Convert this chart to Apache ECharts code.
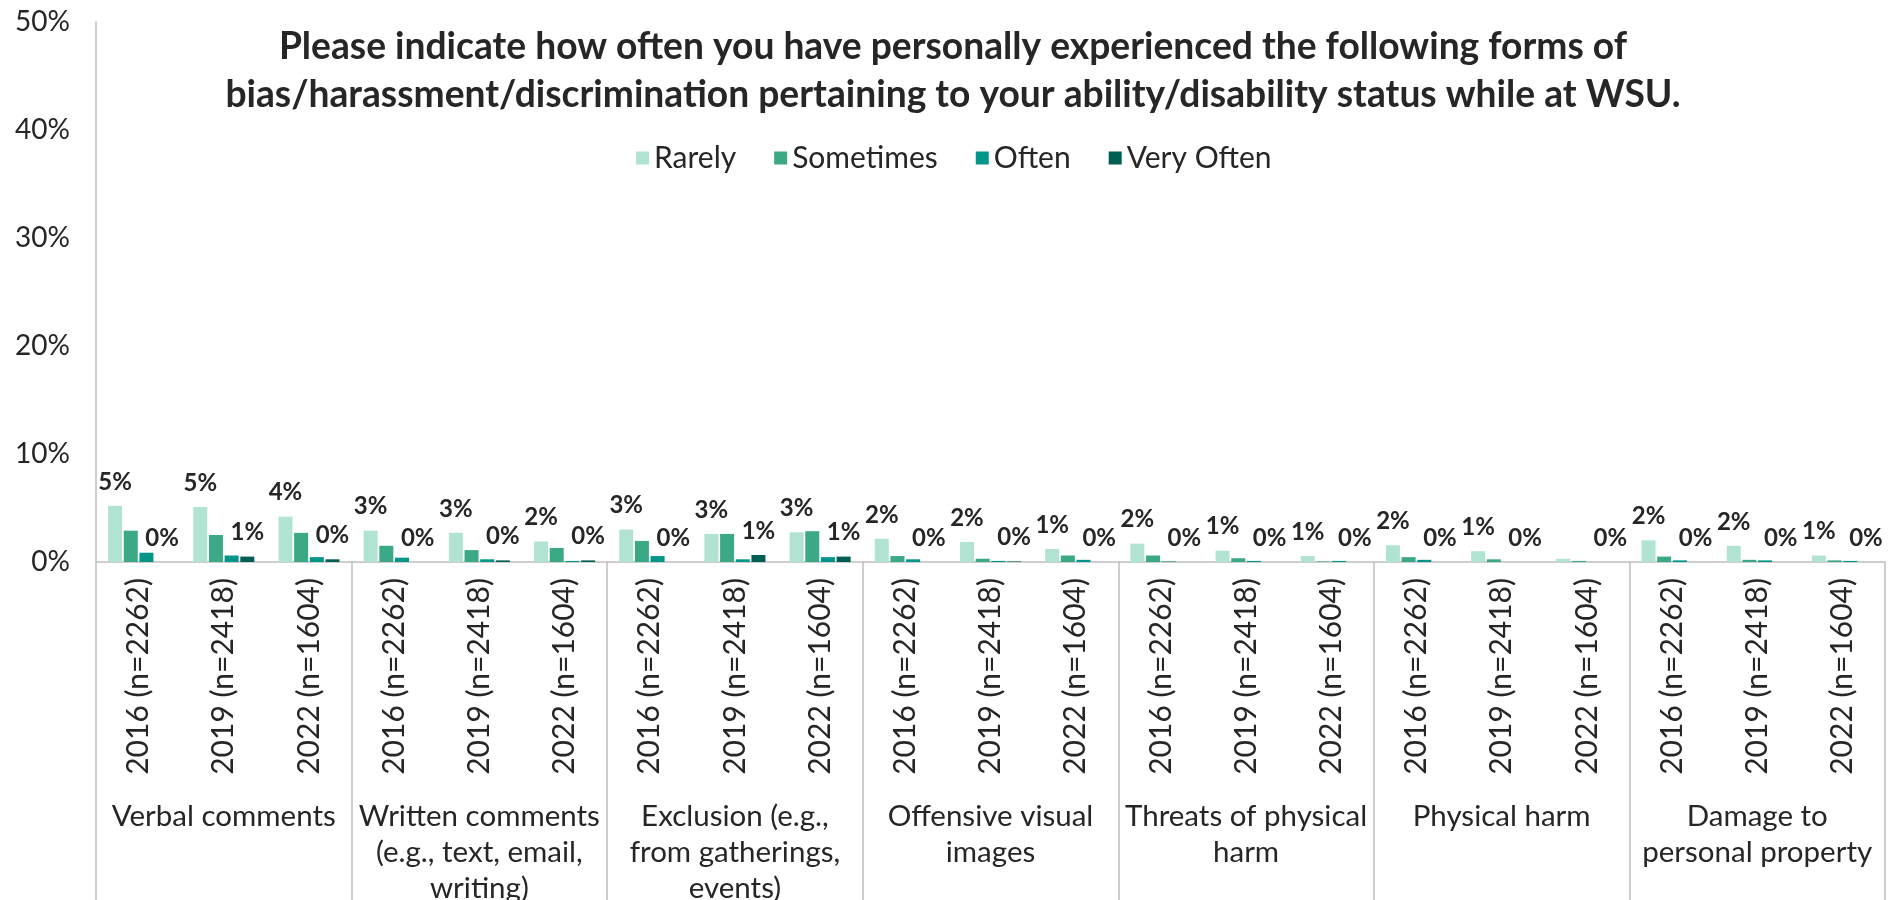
<!DOCTYPE html>
<html>
<head>
<meta charset="utf-8">
<script src="https://cdn.jsdelivr.net/npm/echarts@6/dist/echarts.min.js"></script>
<style>
html,body{margin:0;padding:0;background:#fff;}
#chart{width:1889px;height:900px;}
</style>
</head>
<body>
<div id="chart"></div>
<script>
const yearLabels = [
  "2016 (n=2262)","2019 (n=2418)","2022 (n=1604)",
  "2016 (n=2262)","2019 (n=2418)","2022 (n=1604)",
  "2016 (n=2262)","2019 (n=2418)","2022 (n=1604)",
  "2016 (n=2262)","2019 (n=2418)","2022 (n=1604)",
  "2016 (n=2262)","2019 (n=2418)","2022 (n=1604)",
  "2016 (n=2262)","2019 (n=2418)","2022 (n=1604)",
  "2016 (n=2262)","2019 (n=2418)","2022 (n=1604)"
];
const groupLabels = [
  "Verbal comments",
  "Written comments\n(e.g., text, email,\nwriting)",
  "Exclusion (e.g.,\nfrom gatherings,\nevents)",
  "Offensive visual\nimages",
  "Threats of physical\nharm",
  "Physical harm",
  "Damage to\npersonal property"
];
const seriesNames = ["Rarely","Sometimes","Often","Very Often"];
const rarely    = [5.2,5.1,4.2, 2.9,2.7,1.9, 3.0,2.6,2.75, 2.15,1.85,1.2, 1.7,1.05,0.55, 1.55,1.0,0.3, 2.0,1.5,0.6];
const sometimes = [2.9,2.5,2.7, 1.5,1.1,1.3, 1.95,2.6,2.85, 0.55,0.3,0.6, 0.6,0.35,0.05, 0.45,0.25,0.1, 0.5,0.2,0.15];
const often     = [0.86,0.6,0.45, 0.4,0.25,0.1, 0.55,0.25,0.45, 0.25,0.1,0.2, 0.05,0.1,0.1, 0.2,0,0, 0.15,0.15,0.1];
const veryOften = [0,0.5,0.25, 0,0.15,0.15, 0,0.65,0.5, 0,0.05,0, 0,0,0, 0,0,0, 0,0,0];
const yTicks = {min:0, max:50, interval:10};

const colors = ['#b1e3d3','#3ba985','#00968a','#005f52'];
const FONT = 'Lato';
const TXT = '#262626';

const chart = echarts.init(document.getElementById('chart'));

function mkLabel(showZero){
  return {
    show: true,
    position: 'top',
    distance: 12,
    fontFamily: FONT,
    fontWeight: 'bold',
    fontSize: 24,
    color: TXT,
    formatter: p => {
      const r = Math.round(p.value);
      if (!showZero && r === 0) return '';
      return r + '%';
    }
  };
}

const dataSets = [rarely, sometimes, often, veryOften];
const series = dataSets.map((d, i) => ({
  name: seriesNames[i],
  type: 'bar',
  xAxisIndex: 0,
  barWidth: 14,
  barGap: '12%',
  itemStyle: {color: colors[i]},
  label: i === 0 ? mkLabel(false) : (i === 3 ? mkLabel(true) : {show:false}),
  data: d
}));

chart.setOption({
  animation: false,
  color: colors,
  title: {
    text: 'Please indicate how often you have personally experienced the following forms of\nbias/harassment/discrimination pertaining to your ability/disability status while at WSU.',
    left: 953,
    textAlign: 'center',
    top: 23,
    padding: 0,
    textStyle: {fontFamily: FONT, fontWeight: 'bold', fontSize: 37.2, lineHeight: 48, color: TXT}
  },
  legend: {
    data: seriesNames,
    left: 636,
    top: 143,
    padding: 0,
    itemWidth: 13,
    itemHeight: 13,
    itemGap: 38,
    icon: 'rect',
    textStyle: {fontFamily: FONT, fontSize: 30, color: TXT}
  },
  grid: {left: 96, right: 4, top: 22, bottom: 338, outerBoundsMode: 'none', containLabel: false},
  xAxis: [
    {
      type: 'category',
      data: yearLabels,
      position: 'bottom',
      axisLine: {show: true, lineStyle: {color: '#bfbfbf', width: 1.5}},
      axisTick: {show: false},
      axisLabel: {interval: 0, rotate: 90, margin: 16, fontFamily: FONT, fontSize: 30, color: TXT}
    },
    {
      type: 'category',
      data: groupLabels,
      position: 'bottom',
      axisLine: {show: false},
      axisTick: {show: true, length: 340, interval: 0, lineStyle: {color: '#bfbfbf', width: 1.5}},
      axisLabel: {interval: 0, margin: 236, fontFamily: FONT, fontSize: 29.5, lineHeight: 36, color: TXT, verticalAlign: 'top'}
    }
  ],
  yAxis: {
    type: 'value',
    min: yTicks.min, max: yTicks.max, interval: yTicks.interval,
    axisLine: {show: true, lineStyle: {color: '#bfbfbf', width: 1.5}},
    axisTick: {show: false},
    splitLine: {show: false},
    axisLabel: {formatter: '{value}%', margin: 26, fontFamily: FONT, fontSize: 28, color: TXT}
  },
  series: series
});
</script>
</body>
</html>
